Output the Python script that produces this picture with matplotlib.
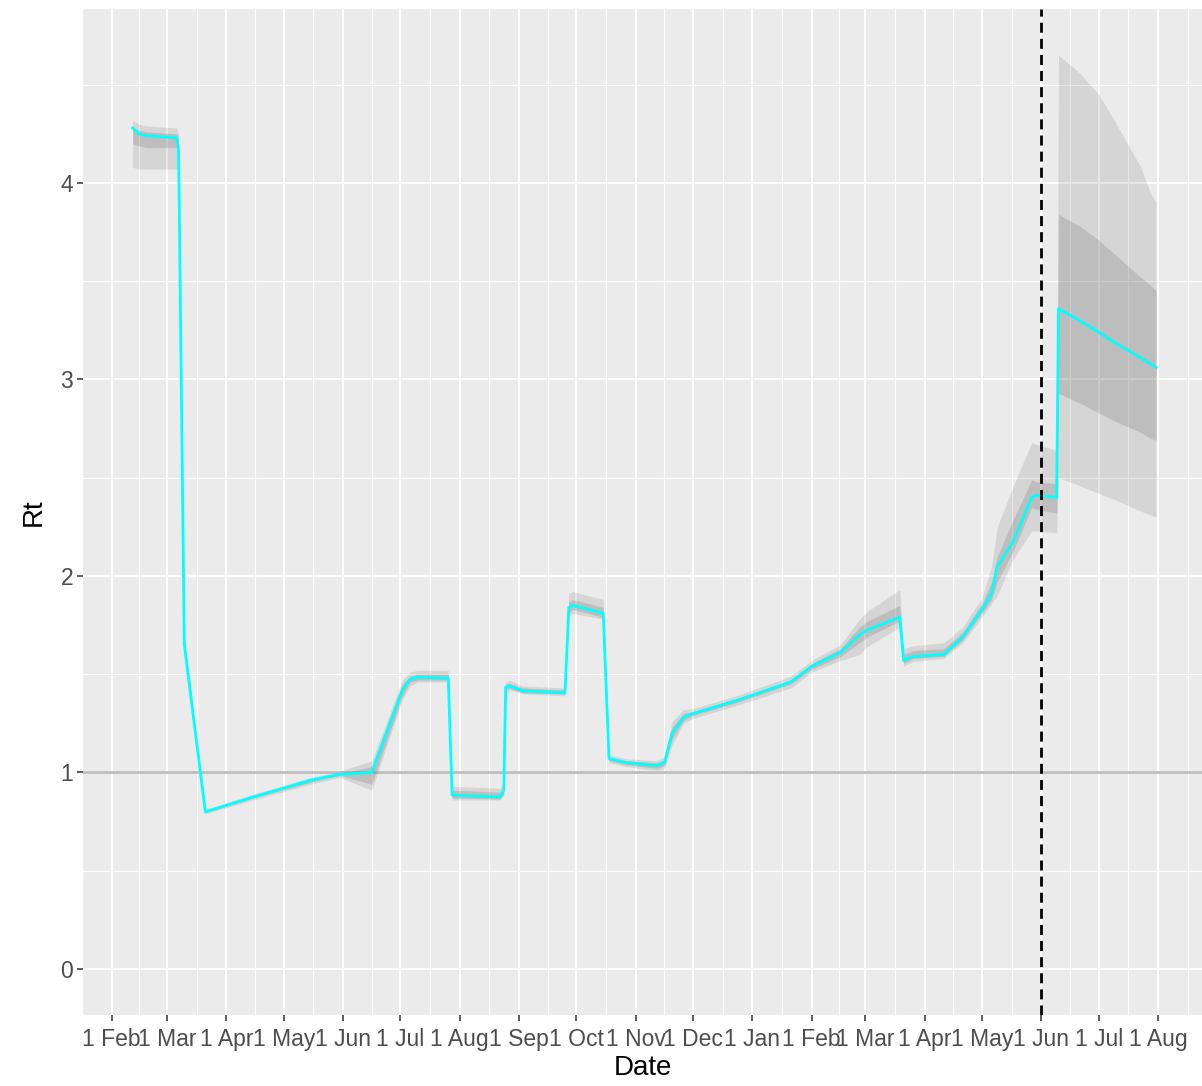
import matplotlib
matplotlib.use('Agg')

import matplotlib.pyplot as plt
import matplotlib.dates as mdates
import numpy as np

plt.rcParams['font.family'] = ['Liberation Sans', 'DejaVu Sans']

# data: date, Rt median, outer band, inner band
dates = ['2020-02-12', '2020-02-15', '2020-02-19', '2020-03-06', '2020-03-07',
         '2020-03-10', '2020-03-21', '2020-04-15', '2020-05-15', '2020-05-30',
         '2020-06-16', '2020-07-02', '2020-07-06', '2020-07-10', '2020-07-26',
         '2020-07-28', '2020-08-22', '2020-08-24', '2020-08-25', '2020-08-27',
         '2020-09-03', '2020-09-25', '2020-09-27', '2020-09-29', '2020-10-15',
         '2020-10-18', '2020-10-27', '2020-11-12', '2020-11-16', '2020-11-20',
         '2020-11-26', '2020-12-01', '2020-12-25', '2021-01-21', '2021-02-01',
         '2021-02-16', '2021-02-26', '2021-03-02', '2021-03-19', '2021-03-21',
         '2021-03-26', '2021-04-11', '2021-04-21', '2021-05-01', '2021-05-06',
         '2021-05-09', '2021-05-17', '2021-05-27', '2021-05-29', '2021-06-09',
         '2021-06-10', '2021-06-21', '2021-07-01', '2021-07-09', '2021-07-23',
         '2021-07-28', '2021-07-31']

rt = [4.28, 4.25, 4.24, 4.23, 4.17,
      1.65, 0.80, 0.875, 0.96, 0.99,
      1.00, 1.42, 1.475, 1.485, 1.48,
      0.885, 0.875, 0.91, 1.435, 1.44,
      1.415, 1.405, 1.84, 1.85, 1.81,
      1.07, 1.05, 1.035, 1.05, 1.20,
      1.28, 1.30, 1.37, 1.46, 1.54,
      1.61, 1.70, 1.725, 1.79, 1.57,
      1.59, 1.60, 1.69, 1.83, 1.91,
      2.05, 2.17, 2.40, 2.41, 2.40,
      3.36, 3.30, 3.24, 3.19, 3.11,
      3.08, 3.06]

lo_outer = [4.08, 4.07, 4.07, 4.07, 4.05,
            1.62, 0.79, 0.86, 0.94, 0.975,
            0.91, 1.37, 1.44, 1.46, 1.46,
            0.86, 0.86, 0.88, 1.40, 1.42,
            1.40, 1.39, 1.79, 1.81, 1.78,
            1.05, 1.03, 1.01, 1.02, 1.14,
            1.25, 1.275, 1.345, 1.43, 1.51,
            1.57, 1.60, 1.64, 1.74, 1.54,
            1.565, 1.58, 1.66, 1.79, 1.86,
            1.90, 2.08, 2.23, 2.23, 2.22,
            2.50, 2.46, 2.42, 2.39, 2.33,
            2.31, 2.30]

hi_outer = [4.32, 4.30, 4.29, 4.28, 4.25,
            1.69, 0.81, 0.89, 0.975, 1.005,
            1.06, 1.47, 1.51, 1.52, 1.52,
            0.93, 0.92, 0.95, 1.46, 1.47,
            1.44, 1.43, 1.91, 1.92, 1.88,
            1.09, 1.07, 1.06, 1.08, 1.26,
            1.32, 1.325, 1.395, 1.49, 1.57,
            1.65, 1.78, 1.82, 1.93, 1.63,
            1.645, 1.66, 1.74, 1.89, 2.05,
            2.25, 2.45, 2.68, 2.67, 2.64,
            4.65, 4.56, 4.45, 4.32, 4.08,
            3.95, 3.90]

lo_inner = [4.20, 4.19, 4.18, 4.18, 4.12,
            1.63, 0.795, 0.87, 0.95, 0.985,
            0.94, 1.39, 1.46, 1.47, 1.47,
            0.87, 0.865, 0.89, 1.42, 1.43,
            1.405, 1.40, 1.81, 1.83, 1.79,
            1.06, 1.04, 1.02, 1.035, 1.17,
            1.265, 1.29, 1.36, 1.45, 1.525,
            1.59, 1.66, 1.69, 1.77, 1.555,
            1.58, 1.59, 1.675, 1.81, 1.88,
            1.97, 2.12, 2.35, 2.34, 2.32,
            2.93, 2.88, 2.83, 2.79, 2.73,
            2.70, 2.69]

hi_inner = [4.28, 4.27, 4.26, 4.25, 4.21,
            1.67, 0.805, 0.88, 0.965, 0.995,
            1.03, 1.45, 1.49, 1.50, 1.50,
            0.91, 0.90, 0.93, 1.45, 1.455,
            1.43, 1.42, 1.87, 1.88, 1.84,
            1.08, 1.06, 1.05, 1.065, 1.23,
            1.30, 1.31, 1.38, 1.47, 1.555,
            1.63, 1.74, 1.77, 1.85, 1.60,
            1.62, 1.63, 1.715, 1.86, 1.97,
            2.10, 2.28, 2.49, 2.48, 2.47,
            3.84, 3.78, 3.71, 3.64, 3.52,
            3.48, 3.45]

forecast_start = '2021-06-01'
y_ticks = [0, 1, 2, 3, 4]

x = np.array(dates, dtype='datetime64[D]')

fig = plt.figure(figsize=(12.02, 10.86), dpi=100)
ax = fig.add_axes([0.069, 0.0654, 0.931, 0.9263])
ax.set_facecolor('#EBEBEB')
for s in ax.spines.values():
    s.set_visible(False)

# grid (ggplot style: minor halfway between majors)
months = np.arange(np.datetime64('2020-01'), np.datetime64('2021-10'), dtype='datetime64[M]')
month_days = months.astype('datetime64[D]')
month_num = mdates.date2num(month_days)
mid_num = (month_num[:-1] + month_num[1:]) / 2.0
for m in mid_num:
    ax.axvline(m, color='white', lw=0.8, zorder=0)
for m in month_num:
    ax.axvline(m, color='white', lw=1.5, zorder=0)
for yv in np.arange(0.5, 5, 1.0):
    ax.axhline(yv, color='white', lw=0.8, zorder=0)
for yv in y_ticks:
    ax.axhline(yv, color='white', lw=1.5, zorder=0)

ax.axhline(1, color='#BEBEBE', lw=2.0, zorder=1)

ax.fill_between(x, lo_outer, hi_outer, color='#7F7F7F', alpha=0.2, lw=0, zorder=2)
ax.fill_between(x, lo_inner, hi_inner, color='#7F7F7F', alpha=0.27, lw=0, zorder=3)
ax.plot(x, rt, color='cyan', lw=2.0, zorder=4)

ax.axvline(np.datetime64(forecast_start), color='black', lw=2.0,
           linestyle=(0, (3.6, 2.2)), zorder=5)

ax.set_xlim(np.datetime64('2020-01-17'), np.datetime64('2021-08-24'))
ax.set_ylim(-0.234, 4.885)

tick_days = np.arange(np.datetime64('2020-02'), np.datetime64('2021-09'),
                      dtype='datetime64[M]').astype('datetime64[D]')
ax.set_xticks(mdates.date2num(tick_days))
ax.set_xticklabels(['1 ' + d.astype(object).strftime('%b') for d in tick_days])
ax.set_yticks(y_ticks)
ax.set_yticklabels([str(v) for v in y_ticks])

ax.tick_params(axis='both', length=4.5, width=1.1, color='#333333',
               labelcolor='#4D4D4D', labelsize=16.5, pad=2.5)
ax.tick_params(axis='x', pad=5)

ax.set_xlabel('Date', fontsize=20, color='black', labelpad=3)
ax.set_ylabel('Rt', fontsize=20, color='black', labelpad=10)

plt.savefig('out.png', dpi=100)
